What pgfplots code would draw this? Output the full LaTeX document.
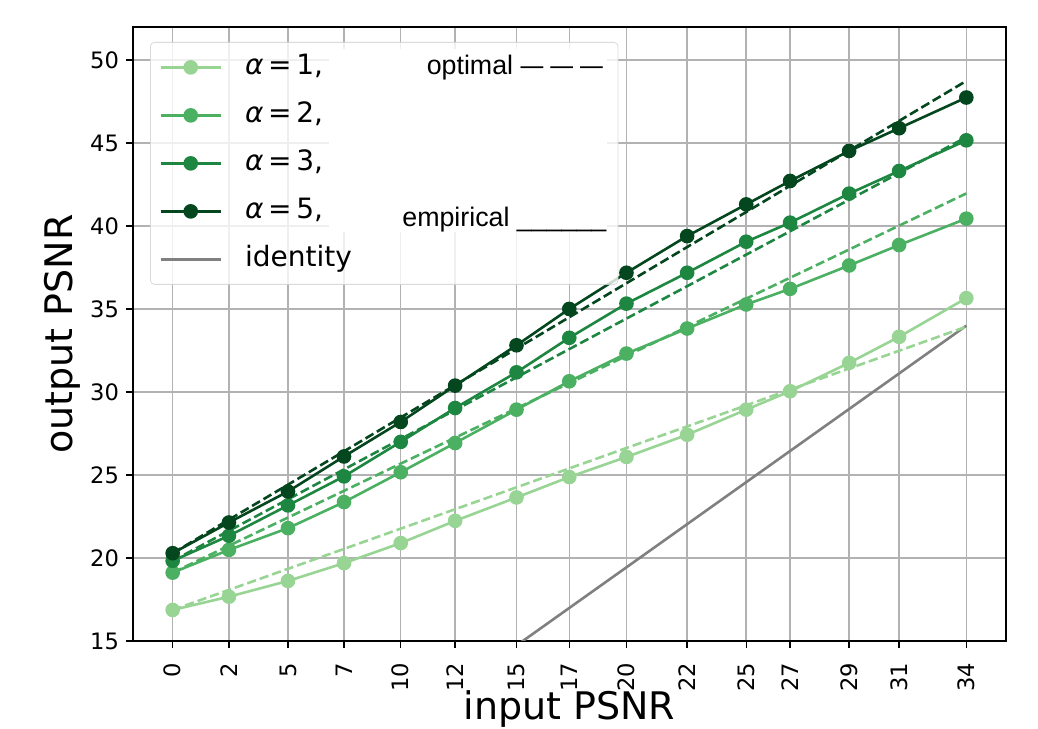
\documentclass[border=0pt]{standalone}
\usepackage{fontspec}
\setmainfont{DejaVu Sans}
\newfontfamily\helv{Liberation Sans}
\usepackage{pgfplots}
\usepackage{pgfplotstable}
\pgfplotsset{compat=1.18}

\definecolor{gA}{RGB}{152,213,148}
\definecolor{gB}{RGB}{75,176,98}
\definecolor{gC}{RGB}{29,134,65}
\definecolor{gD}{RGB}{4,70,30}

% x = input PSNR, a* = empirical, o* = optimal
\pgfplotstableread{
x     a1    a2    a3    a5    o1    o2    o3    o5
0     16.87 19.12 19.83 20.29 16.87 19.12 19.83 20.29
2.41  17.67 20.49 21.34 22.14 18.08 20.74 21.64 22.31
4.94  18.62 21.80 23.17 24.01 19.35 22.44 23.54 24.42
7.34  19.69 23.37 24.92 26.12 20.55 24.05 25.34 26.43
9.77  20.90 25.17 27.00 28.20 21.77 25.69 27.17 28.47
12.1  22.24 26.93 29.04 30.39 22.94 27.25 28.92 30.42
14.73 23.65 28.94 31.19 32.82 24.26 29.02 30.89 32.62
16.99 24.88 30.65 33.27 35.01 25.40 30.54 32.59 34.51
19.44 26.09 32.32 35.33 37.19 26.63 32.18 34.43 36.56
22.04 27.43 33.83 37.19 39.40 27.93 33.93 36.38 38.74
24.57 28.94 35.28 39.06 41.31 29.20 35.63 38.28 40.85
26.45 30.05 36.22 40.21 42.72 30.15 36.89 39.69 42.43
28.98 31.76 37.63 41.96 44.53 31.42 38.59 41.59 44.55
31.12 33.33 38.86 43.32 45.90 32.49 40.03 43.20 46.34
34    35.66 40.45 45.17 47.75 33.94 41.97 45.36 48.75
}\psnr

\begin{document}
\begin{tikzpicture}
\begin{axis}[name=ax,
  scale only axis, width=436.5pt, height=307pt,
  xmin=-1.7, xmax=35.7, ymin=15, ymax=52,
  xtick={0,2.41,4.94,7.34,9.77,12.1,14.73,16.99,19.44,22.04,24.57,26.45,28.98,31.12,34},
  xticklabels={0,2,5,7,10,12,15,17,20,22,25,27,29,31,34},
  ytick={15,20,25,30,35,40,45,50},
  x tick label style={rotate=90, anchor=east},
  xticklabel shift=4pt,
  ticklabel style={font=\fontsize{11.3}{13}\selectfont},
  /pgf/number format/assume math mode=true,
  tick align=outside, tick pos=left, major tick length=3.5pt,
  tick style={black, line width=0.7pt},
  axis line style={line width=0.7pt},
  grid=major, grid style={color=gray!60, line width=0.75pt},
  xlabel={input PSNR}, ylabel={output PSNR},
  label style={font=\fontsize{19}{22}\selectfont},
  xlabel style={at={(axis description cs:0.5,-0.128)}, anchor=base},
  ylabel style={at={(axis description cs:-0.069,0.5)}, anchor=base},
  legend style={at={(axis description cs:0.0195,0.9756)}, anchor=north west,
    draw=gray!35, rounded corners=2pt, fill=white, fill opacity=0.8,
    draw opacity=0.8, text opacity=1, font=\fontsize{14}{16}\selectfont,
    inner xsep=4.5pt, inner ysep=5.5pt, row sep=10pt,
    nodes={inner sep=0pt, text height=10.5pt, text depth=3.5pt},
    /tikz/every odd column/.append style={column sep=11.5pt}},
  legend cell align=left,
  legend image code/.code={\draw[mark repeat=2,mark phase=2,opacity=1,
    mark options={opacity=1}] plot coordinates {(0pt,0pt)(15pt,0pt)(30pt,0pt)};},
  every axis plot/.append style={line width=1.3pt},
  mark size=3pt,
]
\coordinate (boxA) at (axis cs:6.7,50.67);
\coordinate (boxB) at (axis cs:18.61,39.62);
\coordinate (optpos) at (axis cs:18.45,49.16);
\coordinate (emppos) at (axis cs:18.6,39.98);

\addplot[gA, mark=*] table[x=x, y=a1] {\psnr};
\addlegendentry{\makebox[182pt][l]{\textit{α}\,=\,1,}}
\addplot[gB, mark=*] table[x=x, y=a2] {\psnr};
\addlegendentry{\textit{α}\,=\,2,}
\addplot[gC, mark=*] table[x=x, y=a3] {\psnr};
\addlegendentry{\textit{α}\,=\,3,}
\addplot[gD, mark=*] table[x=x, y=a5] {\psnr};
\addlegendentry{\textit{α}\,=\,5,}
\addplot[gray] coordinates {(0,0) (34,34)};
\addlegendentry{identity}

\addplot[gA, dash pattern=on 4.6pt off 2pt, forget plot] table[x=x, y=o1] {\psnr};
\addplot[gB, dash pattern=on 4.6pt off 2pt, forget plot] table[x=x, y=o2] {\psnr};
\addplot[gC, dash pattern=on 4.6pt off 2pt, forget plot] table[x=x, y=o3] {\psnr};
\addplot[gD, dash pattern=on 4.6pt off 2pt, forget plot] table[x=x, y=o5] {\psnr};
\end{axis}
\fill[white] (boxA) rectangle (boxB);
\node[anchor=base east, inner sep=0pt, font=\helv\fontsize{13.4}{15}\selectfont] at (optpos) {optimal \scalebox{0.85}[1]{—}\hspace{3.5pt}\scalebox{0.85}[1]{—}\hspace{3.5pt}\scalebox{0.85}[1]{—}};
\node[anchor=base east, inner sep=0pt, font=\helv\fontsize{13.4}{15}\selectfont] at (emppos) {empirical \_\_\_\_\_\_};
\pgfresetboundingbox
\path[use as bounding box] ([xshift=-66.5pt,yshift=-43.5pt]ax.south west) rectangle ([xshift=16pt,yshift=13.5pt]ax.north east);
\end{tikzpicture}
\end{document}
